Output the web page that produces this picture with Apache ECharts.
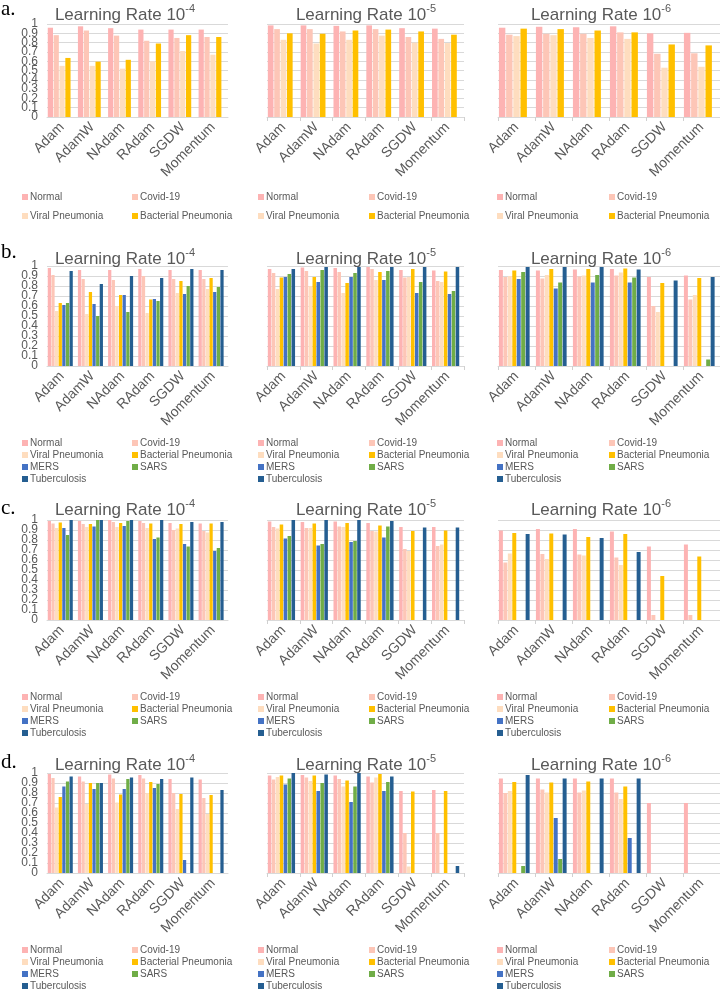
<!DOCTYPE html>
<html>
<head>
<meta charset="utf-8">
<script src="https://cdn.jsdelivr.net/npm/echarts@6/dist/echarts.min.js"></script>
<style>
html,body{margin:0;padding:0;background:#fff;}
#chart{width:720px;height:992px;}
</style>
</head>
<body>
<div id="chart"></div>
<script>
// ---------- data ----------
const categories = ['Adam','AdamW','NAdam','RAdam','SGDW','Momentum'];
const classes = ['Normal','Covid-19','Viral Pneumonia','Bacterial Pneumonia','MERS','SARS','Tuberculosis'];
const rowLabels = ['a.','b.','c.','d.'];
const exponents = ['-4','-5','-6'];
const yTicks = [0,0.1,0.2,0.3,0.4,0.5,0.6,0.7,0.8,0.9,1];

// rows: Normal, Covid-19, Viral, Bacterial, (MERS, SARS, Tuberculosis); columns follow categories
const a4 = [
  [0.96,0.975,0.955,0.94,0.94,0.94],
  [0.88,0.93,0.875,0.82,0.85,0.86],
  [0.55,0.55,0.52,0.60,0.71,0.67],
  [0.635,0.595,0.615,0.79,0.88,0.86]
];
const a5 = [
  [0.985,0.985,0.98,0.985,0.955,0.95],
  [0.945,0.945,0.92,0.945,0.86,0.84],
  [0.83,0.79,0.83,0.875,0.80,0.795],
  [0.90,0.895,0.93,0.94,0.92,0.885]
];
const a6 = [
  [0.96,0.97,0.965,0.975,0.90,0.905],
  [0.885,0.895,0.895,0.91,0.68,0.685],
  [0.87,0.88,0.85,0.84,0.53,0.54],
  [0.95,0.945,0.93,0.91,0.78,0.77]
];
const b4 = [
  [0.98,0.96,0.96,0.97,0.96,0.96],
  [0.91,0.87,0.86,0.90,0.87,0.87],
  [0.55,0.52,0.60,0.53,0.73,0.77],
  [0.63,0.74,0.71,0.665,0.85,0.88],
  [0.61,0.62,0.71,0.67,0.72,0.74],
  [0.63,0.50,0.54,0.65,0.80,0.79],
  [0.95,0.82,0.90,0.88,0.97,0.96]
];
const b5 = [
  [0.97,0.985,0.98,0.99,0.96,0.955],
  [0.93,0.95,0.94,0.97,0.885,0.85],
  [0.77,0.80,0.73,0.86,0.89,0.84],
  [0.885,0.89,0.83,0.94,0.97,0.945],
  [0.89,0.84,0.89,0.86,0.73,0.72],
  [0.92,0.96,0.93,0.95,0.84,0.75],
  [0.97,0.99,0.99,0.99,0.99,0.99]
];
const b6 = [
  [0.96,0.955,0.965,0.97,0.89,0.905],
  [0.89,0.875,0.895,0.905,0.60,0.665],
  [0.90,0.91,0.905,0.935,0.54,0.71],
  [0.955,0.97,0.97,0.975,0.83,0.88],
  [0.87,0.775,0.835,0.835,null,null],
  [0.94,0.835,0.91,0.885,null,0.065],
  [0.99,0.99,0.99,0.965,0.855,0.89]
];
const c4 = [
  [0.99,0.99,1.0,0.99,0.97,0.965],
  [0.965,0.96,0.98,0.97,0.90,0.89],
  [0.92,0.93,0.93,0.92,0.915,0.875],
  [0.975,0.96,0.97,0.965,0.96,0.965],
  [0.92,0.935,0.94,0.81,0.76,0.69],
  [0.85,1.0,0.99,0.825,0.735,0.72],
  [1.0,1.0,1.0,1.0,0.98,0.98]
];
const c5 = [
  [0.985,0.98,0.985,0.97,0.93,0.93],
  [0.93,0.92,0.935,0.89,0.71,0.74],
  [0.915,0.92,0.93,0.885,0.69,0.755],
  [0.955,0.965,0.97,0.945,0.89,0.895],
  [0.815,0.745,0.78,0.825,null,null],
  [0.84,0.76,0.79,0.935,null,null],
  [1.0,1.0,1.0,0.99,0.925,0.925]
];
const c6 = [
  [0.895,0.91,0.91,0.885,0.735,0.755],
  [0.575,0.66,0.655,0.625,0.05,0.05],
  [0.665,0.61,0.645,0.55,null,null],
  [0.87,0.865,0.83,0.86,0.44,0.635],
  [null,null,null,null,null,null],
  [null,null,null,null,null,null],
  [0.86,0.855,0.82,0.68,null,null]
];
const d4 = [
  [0.99,0.965,0.985,0.98,0.94,0.935],
  [0.95,0.915,0.945,0.945,0.80,0.75],
  [0.655,0.69,0.705,0.80,0.64,0.59],
  [0.76,0.90,0.785,0.91,0.79,0.78],
  [0.865,0.84,0.84,0.85,0.13,null],
  [0.915,0.90,0.94,0.89,null,null],
  [0.965,0.90,0.955,0.94,0.955,0.83]
];
const d5 = [
  [0.975,0.98,0.975,0.965,0.82,0.83],
  [0.935,0.955,0.94,0.905,0.40,0.40],
  [0.96,0.92,0.865,0.955,0.065,null],
  [0.975,0.975,0.925,0.99,0.815,0.82],
  [0.885,0.82,0.71,0.82,null,null],
  [0.945,0.90,0.865,0.91,null,null],
  [1.0,0.985,1.0,0.965,null,0.07]
];
const d6 = [
  [0.945,0.945,0.945,0.945,0.70,0.70],
  [0.80,0.835,0.805,0.805,null,null],
  [0.82,0.805,0.825,0.74,null,null],
  [0.91,0.905,0.915,0.865,null,null],
  [null,0.55,null,0.35,null,null],
  [0.07,0.14,null,null,null,null],
  [0.98,0.945,0.945,0.945,null,null]
];
const panels = [[a4,a5,a6],[b4,b5,b6],[c4,c5,c6],[d4,d5,d6]];

// ---------- styles / layout ----------
const colors = ['#FDB3B3','#FDC6B7','#FEDDBF','#FFC000','#4472C4','#70AD47','#255E91'];
const FONT = '"Liberation Sans", Arial, sans-serif';
const TXT = '#595959';
const colLeft = [47, 267, 498];
const colWidth = [181, 197, 222];
const rowTop = [24, 266, 520, 773];
const rowHeight = [93, 100, 100, 100];
const titleCX = [125, 366, 601];
const titleCY = [13, 257, 508, 763];
const labelCY = [9, 252, 508, 762];
const legendX = [[22,132],[258,369],[497,609]];

const option = {
  animation: false,
  backgroundColor: '#fff',
  title: [], grid: [], xAxis: [], yAxis: [], series: [], legend: []
};

const yLabelStyle = {fontSize: 12, color: TXT, margin: 9, fontFamily: FONT,
  formatter: v => String(Math.round(v * 10) / 10)};

for (let r = 0; r < 4; r++) {
  option.title.push({
    text: rowLabels[r], left: 1, top: labelCY[r] - 12, padding: 0,
    textStyle: {fontFamily: '"Liberation Serif", "Times New Roman", serif', fontSize: 21, fontWeight: 'normal', color: '#000', lineHeight: 24}
  });
  for (let c = 0; c < 3; c++) {
    const idx = r * 3 + c;
    const data = panels[r][c];
    option.title.push({
      text: '{t|Learning Rate 10}{s|' + exponents[c] + '}',
      left: titleCX[c], top: titleCY[r] - 11, textAlign: 'center', padding: 0,
      textStyle: {
        fontWeight: 'normal',
        rich: {
          t: {fontFamily: FONT, fontSize: 17, fontWeight: 'normal', color: TXT, lineHeight: 22, verticalAlign: 'bottom'},
          s: {fontFamily: FONT, fontSize: 11, fontWeight: 'normal', color: TXT, lineHeight: 12, verticalAlign: 'top', padding: [1,0,0,0]}
        }
      }
    });
    option.grid.push({left: colLeft[c], top: rowTop[r], width: colWidth[c], height: rowHeight[r]});
    option.xAxis.push({
      gridIndex: idx, type: 'category', data: categories,
      axisLine: {lineStyle: {color: '#d9d9d9'}},
      axisTick: {show: c > 0, length: 4, lineStyle: {color: '#d0d0d0'}},
      axisLabel: {rotate: 45, interval: 0, fontSize: 14, color: TXT, margin: 8, fontFamily: FONT}
    });
    // main value axis: gridlines and the inner tick labels 0.1 … 0.9
    const yMain = option.yAxis.length;
    option.yAxis.push({
      gridIndex: idx, type: 'value', position: 'left',
      min: yTicks[0], max: yTicks[yTicks.length - 1], interval: yTicks[1] - yTicks[0],
      axisLine: {show: false}, axisTick: {show: false},
      splitLine: {lineStyle: {color: '#d9d9d9'}},
      axisLabel: Object.assign({show: c === 0, showMinLabel: false, showMaxLabel: false, hideOverlap: false}, yLabelStyle)
    });
    // companion axis on the same scale carrying only the end labels 0 and 1
    option.yAxis.push({
      gridIndex: idx, type: 'value', position: 'left',
      min: yTicks[0], max: yTicks[yTicks.length - 1], interval: yTicks[yTicks.length - 1] - yTicks[0],
      axisLine: {show: false}, axisTick: {show: false}, splitLine: {show: false},
      axisLabel: Object.assign({show: c === 0, showMinLabel: true, showMaxLabel: true, hideOverlap: false}, yLabelStyle)
    });
    for (let i = 0; i < data.length; i++) {
      option.series.push({
        type: 'bar', name: classes[i], xAxisIndex: idx, yAxisIndex: yMain,
        data: data[i], itemStyle: {color: colors[i]},
        barGap: '12%', barCategoryGap: '5%', silent: true
      });
    }
    // empty trailing slot (the source charts leave room for one more bar per group)
    option.series.push({
      type: 'bar', xAxisIndex: idx, yAxisIndex: yMain, data: [],
      barGap: '12%', barCategoryGap: '5%', silent: true
    });
    const n = data.length;
    const leftNames = n === 4 ? [classes[0], classes[2]] : [classes[0], classes[2], classes[4], classes[6]];
    const rightNames = n === 4 ? [classes[1], classes[3]] : [classes[1], classes[3], classes[5]];
    const plotBottom = rowTop[r] + rowHeight[r];
    const firstRow = r === 0 ? 197 : plotBottom + 77;
    const gap = r === 0 ? 7 : 0;
    [leftNames, rightNames].forEach((names, k) => {
      option.legend.push({
        data: names, orient: 'vertical', left: legendX[c][k], top: firstRow - 6,
        padding: 0, itemWidth: 6, itemHeight: 6, itemGap: gap, icon: 'rect',
        selectedMode: false,
        textStyle: {fontFamily: FONT, fontSize: 10, color: TXT, lineHeight: 12, padding: [0,0,0,-3]}
      });
    });
  }
}

const chart = echarts.init(document.getElementById('chart'), null, {renderer: 'canvas'});
chart.setOption(option);
</script>
</body>
</html>
